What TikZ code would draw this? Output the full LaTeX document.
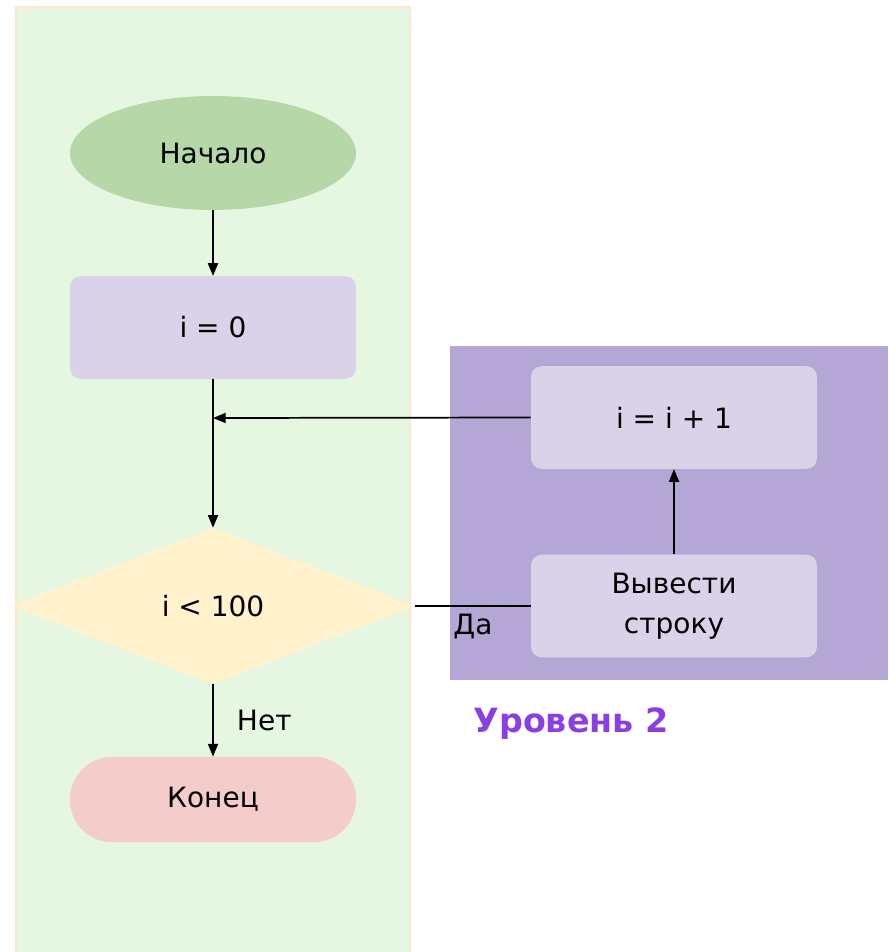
\documentclass[tikz,border=0pt]{standalone}
\usepackage{fontspec}
\setmainfont{DejaVu Sans}
\usepackage{xcolor}
\definecolor{lanegreen}{HTML}{E6F7E1}
\definecolor{laneedge}{HTML}{FFE6CC}
\definecolor{startgreen}{HTML}{B6D7A8}
\definecolor{stepviolet}{HTML}{D9D2E9}
\definecolor{panelviolet}{HTML}{B4A7D6}
\definecolor{condyellow}{HTML}{FFF2CC}
\definecolor{endpink}{HTML}{F4CCCC}
\definecolor{levelviolet}{HTML}{8A3FE3}
\usepackage{tikz}
\usetikzlibrary{positioning, arrows.meta, shapes.geometric}

\tikzset{
  boxstep/.style={fill=stepviolet, rounded corners=8pt, minimum width=214.5pt,
    minimum height=77pt, align=center, inner sep=0pt},
  flowarrow/.style={-{Triangle[length=9.5pt, width=7.5pt]}, line width=1.3pt},
  flowline/.style={line width=1.3pt}
}

\begin{document}
\begin{tikzpicture}[x=0.75pt, y=-0.75pt, font=\fontsize{21}{30}\selectfont]
  \useasboundingbox (0,0) rectangle (888,952);
  % lanes
  \draw[fill=lanegreen, draw=laneedge, line width=1.2pt] (16,7) rectangle (410,960);
  \fill[panelviolet] (450,346) rectangle (888,680);

  % level 1
  \node[ellipse, fill=startgreen, minimum width=214.5pt, minimum height=85.5pt,
    inner sep=0pt] (start) at (213,153) {Начало};
  \node[boxstep] (init) at (213,327.5) {i = 0};
  \node[diamond, fill=condyellow, minimum width=303pt, minimum height=117pt,
    inner sep=0pt] (cond) at (213,606) {i < 100};
  \node[fill=endpink, rounded corners=31.5pt, minimum width=214.5pt,
    minimum height=64pt, inner sep=0pt] (finish) at (213,799.5) {Конец};

  % level 2
  \node[boxstep] (incr) at (674,417.5) {i = i + 1};
  \node[boxstep] (print) at (674,606) {Вывести\\строку};
  \node[font=\fontsize{25}{28}\selectfont\bfseries, text=levelviolet] (level)
    at (571,724) {Уровень 2};

  % connectors
  \coordinate (join) at (213,418);
  \draw[flowarrow] (start) -- (init);
  \draw[flowarrow] (init) -- (cond);
  \draw[flowarrow] (incr.west) -- (join);
  \draw[flowline] (cond.east) -- (print.west)
    node[midway, below=2pt] (yes) {Да};
  \draw[flowarrow] (print) -- (incr);
  \draw[flowarrow] (cond) -- (finish)
    node[midway, right=14pt] (no) {Нет};
\end{tikzpicture}
\end{document}
